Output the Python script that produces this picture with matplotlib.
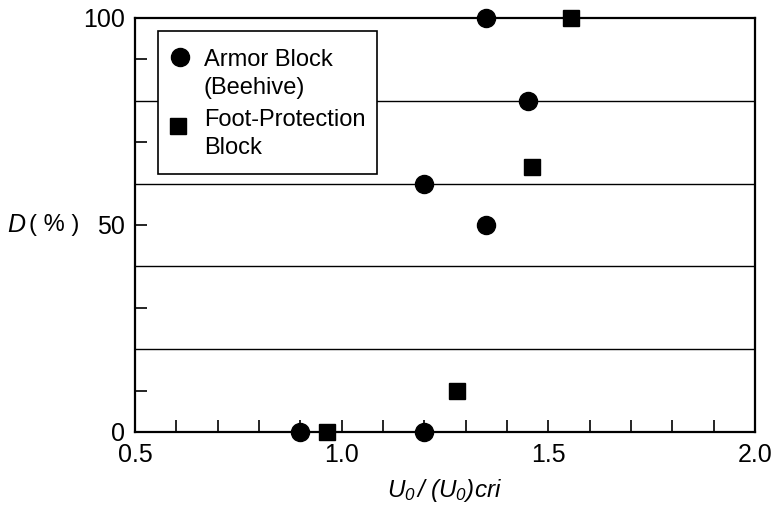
import matplotlib
matplotlib.use('Agg')
import matplotlib.pyplot as plt
from matplotlib.ticker import MultipleLocator, FixedLocator
from matplotlib.patches import Rectangle

plt.rcParams['font.family'] = ['Liberation Sans', 'DejaVu Sans']
plt.rcParams['mathtext.fontset'] = 'custom'
plt.rcParams['mathtext.rm'] = 'Liberation Sans:italic'
plt.rcParams['mathtext.it'] = 'Liberation Sans:italic'

# valores
armor_x = [0.90, 1.20, 1.20, 1.35, 1.35, 1.45]
armor_y = [0, 0, 60, 50, 100, 80]
foot_x = [0.965, 1.28, 1.46, 1.555]
foot_y = [0, 10, 64, 100]

grid_y = [20, 40, 60, 80]
xticks = [0.5, 1.0, 1.5, 2.0]
xtick_labels = ['0.5', '1.0', '1.5', '2.0']
ytick_major = [0, 50, 100]
ytick_minor = [10, 30, 70, 90]
ytick_labels = ['0', '50', '100']

fig = plt.figure(figsize=(7.76, 5.07), dpi=100)
ax = fig.add_axes([0.174, 0.148, 0.799, 0.8165])

for g in grid_y:
    ax.axhline(g, color='black', lw=1.0, zorder=1)

ax.plot(armor_x, armor_y, 'o', color='black', ms=13, clip_on=False, zorder=5)
ax.plot(foot_x, foot_y, 's', color='black', ms=11, clip_on=False, zorder=5)

ax.set_xlim(0.5, 2.0)
ax.set_ylim(0, 100)
ax.xaxis.set_major_locator(FixedLocator(xticks))
ax.xaxis.set_minor_locator(MultipleLocator(0.1))
ax.yaxis.set_major_locator(FixedLocator(ytick_major))
ax.yaxis.set_minor_locator(FixedLocator(ytick_minor))
ax.set_xticklabels(xtick_labels)
ax.set_yticklabels(ytick_labels)

ax.tick_params(which='both', direction='in', labelsize=18, width=1.2,
               length=8.5, pad=7)
ax.tick_params(axis='x', pad=8)
for s in ax.spines.values():
    s.set_linewidth(1.6)

ax.set_xlabel(r'$U_0\,/\;(U_0)cri$', fontsize=17.5, labelpad=7)
fig.text(0.009, 1 - 225 / 507, 'D', fontsize=18, fontstyle='italic',
         ha='left', va='center')
fig.text(0.037, 1 - 225 / 507, '( % )', fontsize=17, ha='left', va='center')

# leyenda dibujada a mano para alinear el marcador con la primera línea
ax.add_patch(Rectangle((0.037, 0.623), 0.353, 0.346, transform=ax.transAxes,
                       facecolor='white', edgecolor='black', lw=1.2, zorder=10))
ax.plot([0.0726], [0.906], 'o', color='black', ms=13, transform=ax.transAxes,
        zorder=11, clip_on=False)
ax.plot([0.069], [0.740], 's', color='black', ms=11, transform=ax.transAxes,
        zorder=11, clip_on=False)
ax.text(0.111, 0.926, 'Armor Block\n(Beehive)', transform=ax.transAxes,
        fontsize=17, ha='left', va='top', zorder=12, linespacing=1.35)
ax.text(0.111, 0.781, 'Foot-Protection\nBlock', transform=ax.transAxes,
        fontsize=17, ha='left', va='top', zorder=12, linespacing=1.35)

fig.savefig('out.png', dpi=100)
